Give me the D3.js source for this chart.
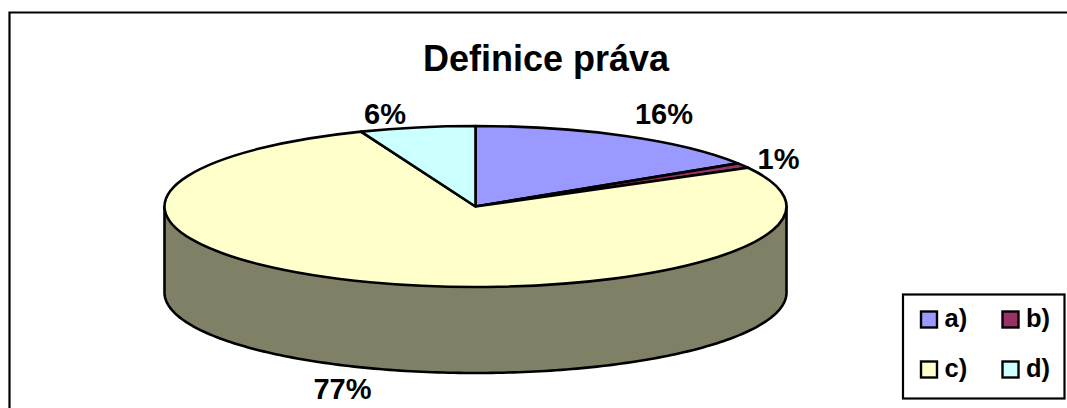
<!DOCTYPE html>
<html><head><meta charset="utf-8">
<script src="https://cdn.jsdelivr.net/npm/d3@7"></script>
<style>html,body{margin:0;padding:0;background:#fff}svg{display:block}text{font-family:"Liberation Sans",Arial,sans-serif;font-weight:bold;fill:#000}</style>
</head><body><svg id="c" width="1067" height="408"></svg>
<script>
const categories = ["a)","b)","c)","d)"];
const values = [16,1,77,6];
const labels = ["16%","1%","77%","6%"];
const colors = ["#9999FF","#993366","#FFFFCC","#CCFFFF"];
const sideColor = "#808066";
const svg = d3.select("#c");
const cx=475.5, cy=206.5, rx=311, ry=80.5, depth=86;
svg.append("path").attr("d","M9.5,408V12.5H1067").attr("fill","none").attr("stroke","#000").attr("stroke-width",2.2);
svg.append("text").attr("x",546).attr("y",70.5).attr("text-anchor","middle").attr("font-size",36).text("Definice práva");
const pie=d3.pie().sort(null).value(d=>d)(values);
const k=ry/rx;
const wallPts=[[cx-rx,cy]].concat(d3.range(0,181).map(a=>{const t=a*Math.PI/180;return [cx-rx*Math.cos(t),cy+depth+ry*Math.sin(t)];}),[[cx+rx,cy]]);
svg.append("path").attr("d",d3.line()(wallPts)+"Z").attr("fill",sideColor).attr("stroke","#000").attr("stroke-width",2.6).attr("stroke-linejoin","round");
const arc=d3.arc().innerRadius(0).outerRadius(rx);
svg.append("g").attr("transform",`translate(${cx},${cy}) scale(1,${k})`)
 .selectAll("path").data(pie).join("path").attr("d",arc).attr("fill",(d,i)=>colors[i])
 .attr("stroke","#000").attr("stroke-width",2.6).attr("stroke-linejoin","round").attr("vector-effect","non-scaling-stroke");
const labelPos=[[664,124],[778.5,169],[342.5,399],[385,124]];
svg.selectAll("text.l").data(labels).join("text").attr("class","l").attr("x",(d,i)=>labelPos[i][0]).attr("y",(d,i)=>labelPos[i][1]).attr("text-anchor","middle").attr("font-size",29).text(d=>d);
const lx=d3.scalePoint().domain([0,1]).range([921,1002.5]);
const ly=d3.scalePoint().domain([0,1]).range([311.5,361.5]);
svg.append("rect").attr("x",903).attr("y",294.5).attr("width",161.5).attr("height",104).attr("fill","#fff").attr("stroke","#000").attr("stroke-width",2.2);
const lg=svg.selectAll("g.lg").data(categories).join("g").attr("class","lg").attr("transform",(d,i)=>`translate(${lx(i%2)},${ly(i>>1)})`);
lg.append("rect").attr("width",16).attr("height",16).attr("fill",(d,i)=>colors[i]).attr("stroke","#000").attr("stroke-width",2.4);
lg.append("text").attr("x",23.5).attr("y",15.5).attr("font-size",25.5).text(d=>d);
</script></body></html>
